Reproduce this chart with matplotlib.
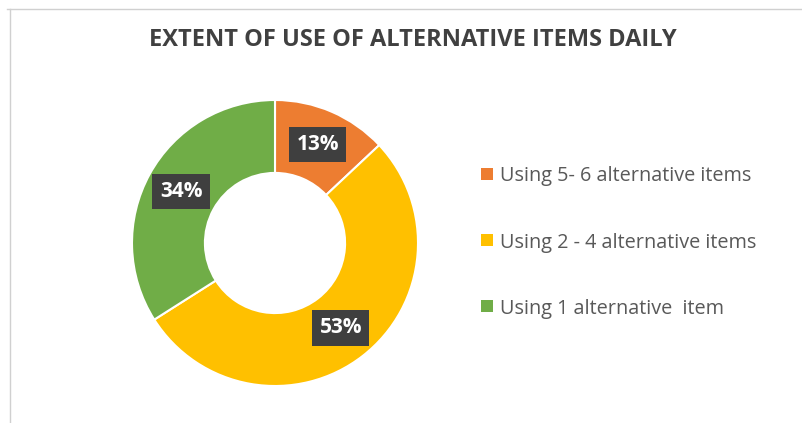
import matplotlib.pyplot as plt
from matplotlib.lines import Line2D
from matplotlib.patches import Rectangle

labels = ['Using 5- 6 alternative items', 'Using 2 - 4 alternative items', 'Using 1 alternative  item']
values = [13, 53, 34]
colors = ['#ED7D31', '#FFC000', '#70AD47']

plt.rcParams['font.family'] = ['Open Sans', 'DejaVu Sans']

W, H = 803, 423
fig = plt.figure(figsize=(W/100, H/100), dpi=100)

# chart area border (top and left only visible)
fig.add_artist(Line2D([7/W, 1], [1 - 9/H, 1 - 9/H], color='#D0D0D0', lw=1))
fig.add_artist(Line2D([10/W, 10/W], [0, 1 - 9/H], color='#D0D0D0', lw=1))

fig.text(413/W, 1 - 40/H, 'EXTENT OF USE OF ALTERNATIVE ITEMS DAILY',
         ha='center', va='center', fontsize=17, fontweight='bold', color='#404040')

# donut centred at (275, 243), outer radius 143 px
cx, cy, r = 275, 243, 143
ax = fig.add_axes([(cx - r)/W, (H - cy - r)/H, 2*r/W, 2*r/H])
wedges, texts, autotexts = ax.pie(values, colors=colors, startangle=90, counterclock=False,
                                  radius=1, autopct='%1.0f%%', pctdistance=0.75,
                                  wedgeprops=dict(width=0.51, edgecolor='white', linewidth=1.5))
for t in autotexts:
    t.set_color('white')
    t.set_fontsize(15)
    t.set_fontweight('bold')
    t.set_bbox(dict(facecolor='#3F3F3F', edgecolor='none', boxstyle='square,pad=0.35'))
ax.set_xlim(-1, 1)
ax.set_ylim(-1, 1)
ax.set_aspect('equal')
ax.axis('off')

# legend, drawn by hand to match row positions
rows_y = [174, 240, 306]
for lab, col, y in zip(labels, colors, rows_y):
    fig.add_artist(Rectangle((481/W, 1 - (y + 6)/H), 12/W, 12/H, facecolor=col,
                             edgecolor='none', transform=fig.transFigure))
    fig.text(500/W, 1 - y/H, lab, ha='left', va='center_baseline', fontsize=14.3,
             color='#595959')

plt.savefig('out.png', dpi=100)
